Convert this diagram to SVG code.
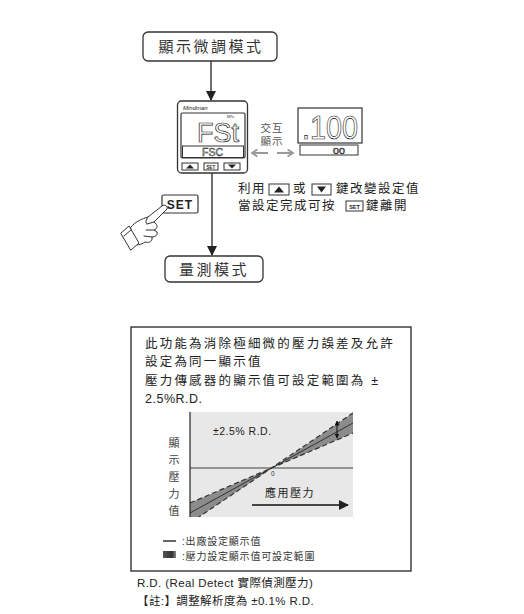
<svg xmlns="http://www.w3.org/2000/svg" width="524" height="614" viewBox="0 0 524 614">
  <defs>
    <style>
      .cjk { font-family: "Liberation Sans", "Noto Sans CJK TC", sans-serif; }
      .mode { font-size: 15px; fill: #333; letter-spacing: 2.5px; text-anchor: middle; }
      .box { fill: #fff; stroke: #333; stroke-width: 1.3; }
      .wire { stroke: #222; stroke-width: 1.3; fill: none; }
      .body { font-size: 12.5px; fill: #222; letter-spacing: 1.5px; }
      .para { font-size: 12.5px; fill: #222; letter-spacing: 2.2px; }
      .note { font-size: 11.5px; fill: #222; letter-spacing: 0.4px; }
      .seg { font-family: "Liberation Sans", sans-serif; fill: #fff; stroke: #222; stroke-width: 0.7; }
      .segs { font-family: "Liberation Sans", sans-serif; fill: none; stroke: #222; stroke-width: 0.5; }
      .key { fill: #fff; stroke: #333; stroke-width: 1; }
      .hand { fill: #fff; stroke: #333; stroke-width: 1; stroke-linejoin: round; stroke-linecap: round; }
    </style>
    <marker id="tri" viewBox="0 0 10 10" refX="9" refY="5" markerWidth="10" markerHeight="10" markerUnits="userSpaceOnUse" orient="auto">
      <path d="M0,0 L10,5 L0,10 z" fill="#222"/>
    </marker>
    <marker id="chev" viewBox="0 0 10 10" refX="8" refY="5" markerWidth="9" markerHeight="9" markerUnits="userSpaceOnUse" orient="auto-start-reverse">
      <path d="M2,1 L8,5 L2,9" fill="none" stroke="#999" stroke-width="2"/>
    </marker>
    <marker id="tiny" viewBox="0 0 10 10" refX="9" refY="5" markerWidth="5" markerHeight="5" markerUnits="userSpaceOnUse" orient="auto-start-reverse">
      <path d="M0,0 L10,5 L0,10 z" fill="#111"/>
    </marker>
    <clipPath id="plot">
      <rect x="190" y="412" width="163" height="105"/>
    </clipPath>
    <linearGradient id="swatch" x1="0" y1="0" x2="1" y2="0">
      <stop offset="0" stop-color="#555"/>
      <stop offset="0.7" stop-color="#333"/>
      <stop offset="1" stop-color="#888"/>
    </linearGradient>
  </defs>

  <rect width="524" height="614" fill="#fff"/>

  <!-- flow connectors -->
  <g id="connectors">
    <line class="wire" x1="211" y1="61" x2="211" y2="100" marker-end="url(#tri)"/>
    <line class="wire" x1="212" y1="173" x2="212" y2="255" marker-end="url(#tri)"/>
    <line x1="252" y1="153" x2="268" y2="153" stroke="#999" stroke-width="2" marker-start="url(#chev)"/>
    <line x1="277" y1="153" x2="293" y2="153" stroke="#999" stroke-width="2" marker-end="url(#chev)"/>
  </g>

  <!-- fine adjust mode -->
  <g id="node-adjust">
    <rect class="box" x="143" y="32" width="134" height="29" rx="5"/>
    <text class="cjk mode" x="211" y="52">顯示微調模式</text>
  </g>

  <!-- controller front panel -->
  <g id="node-device">
    <rect x="177.5" y="101" width="70" height="72" rx="4" fill="#fff" stroke="#333" stroke-width="1.3"/>
    <text x="183" y="109.5" font-family="Liberation Sans, sans-serif" font-size="6" font-style="italic" fill="#222">Mindman</text>
    <rect x="181" y="113" width="64" height="45" rx="1.5" fill="#fff" stroke="#333" stroke-width="1.2"/>
    <text x="227" y="118" font-family="Liberation Sans, sans-serif" font-size="3.5" fill="#333">MPa</text>
    <text class="seg" x="197" y="142" font-size="27" textLength="42" lengthAdjust="spacingAndGlyphs">FSt</text>
    <rect x="182.5" y="146" width="61" height="11.5" fill="#fff" stroke="#333" stroke-width="1"/>
    <text class="segs" x="202" y="155.5" font-size="10" textLength="21" lengthAdjust="spacingAndGlyphs">FSC</text>
    <rect class="key" x="182" y="163" width="16" height="7"/>
    <path d="M186,168.5 L190,164.5 L194,168.5 z" fill="#222"/>
    <rect class="key" x="204" y="163" width="14" height="7"/>
    <text x="211" y="168.5" font-family="Liberation Sans, sans-serif" font-size="4.5" font-weight="bold" fill="#222" text-anchor="middle">SET</text>
    <rect class="key" x="224" y="163" width="16" height="7"/>
    <path d="M228,164.5 L236,164.5 L232,168.5 z" fill="#222"/>
  </g>

  <!-- alternating display -->
  <g id="node-alt">
    <text class="cjk" x="272" y="132" font-size="10.5" fill="#555" text-anchor="middle" letter-spacing="1">交互</text>
    <text class="cjk" x="272" y="145" font-size="10.5" fill="#555" text-anchor="middle" letter-spacing="1">顯示</text>
  </g>

  <g id="node-display">
    <rect x="298" y="108" width="64" height="35" fill="#fff" stroke="#333" stroke-width="1.2"/>
    <text class="seg" x="302" y="139" font-size="34" textLength="56" lengthAdjust="spacingAndGlyphs">.100</text>
    <rect x="300" y="145" width="58" height="10" fill="#fff" stroke="#333" stroke-width="1"/>
    <text class="segs" x="333" y="153.5" font-size="8.5" textLength="12" lengthAdjust="spacingAndGlyphs">00</text>
  </g>

  <!-- key instructions -->
  <g id="node-instructions">
    <text class="cjk body" x="238" y="193">利用</text>
    <rect class="key" x="269" y="184" width="20" height="11"/>
    <path d="M274,192.5 L279,186.5 L284,192.5 z" fill="#222"/>
    <text class="cjk body" x="293" y="193">或</text>
    <rect class="key" x="312" y="184" width="19" height="11"/>
    <path d="M317,186.5 L326,186.5 L321.5,192.5 z" fill="#222"/>
    <text class="cjk body" x="336" y="193">鍵改變設定值</text>
    <text class="cjk body" x="238" y="210">當設定完成可按</text>
    <rect class="key" x="346" y="201" width="17" height="10"/>
    <text x="354.5" y="208.5" font-family="Liberation Sans, sans-serif" font-size="5.5" font-weight="bold" fill="#222" text-anchor="middle">SET</text>
    <text class="cjk body" x="366" y="210">鍵離開</text>
  </g>

  <!-- pressing hand -->
  <g id="node-set">
    <rect x="162" y="195" width="36" height="18" rx="1.5" fill="#fff" stroke="#333" stroke-width="1.2"/>
    <text x="180" y="209" font-family="Liberation Sans, sans-serif" font-size="12" font-weight="bold" fill="#222" text-anchor="middle" letter-spacing="1">SET</text>
    <path class="hand" d="M131,227 C136,221 142,219 148,217 L162,206 C165,204 168,206 167,209 L154,222 L156,224 C158,226 157,229 154,230 L157,232 C158,235 155,237 152,237 L152,239 C152,242 148,243 145,242 C141,245 136,246 132,243 Z"/>
    <path class="hand" d="M147,224 L154,222 M146,230 L154,230 M144,236 L152,237 M148,217 C146,220 145,222 147,224"/>
    <path class="hand" d="M121,233 L129,226 L139,243 L131,250 Z"/>
    <path class="hand" d="M124,236 L131,230"/>
  </g>

  <!-- measure mode -->
  <g id="node-measure">
    <rect class="box" x="165" y="256" width="98" height="26" rx="5"/>
    <text class="cjk mode" x="214" y="275">量測模式</text>
  </g>

  <!-- explanation panel -->
  <g id="node-panel">
    <rect x="131" y="327" width="280" height="244" fill="#fff" stroke="#222" stroke-width="1.3"/>
    <text class="cjk para" x="145" y="348">此功能為消除極細微的壓力誤差及允許</text>
    <text class="cjk para" x="145" y="366">設定為同一顯示值</text>
    <text class="cjk para" x="145" y="385">壓力傳感器的顯示值可設定範圍為 ±</text>
    <text class="cjk para" x="145" y="403" style="letter-spacing:0.5px">2.5%R.D.</text>

    <!-- tolerance chart -->
    <rect x="190" y="412" width="163" height="105" fill="#e8e8e8"/>
    <g clip-path="url(#plot)">
      <path d="M190,503 L272,468 L190,523 Z M272,468 L353,413 L353,433 Z" fill="#8c8c8c"/>
      <line x1="190" y1="468" x2="353" y2="468" stroke="#777" stroke-width="1.3"/>
      <line x1="190" y1="513" x2="353" y2="423" stroke="#333" stroke-width="1"/>
      <line x1="190" y1="503" x2="353" y2="433" stroke="#333" stroke-width="1.2" stroke-dasharray="5 3"/>
      <line x1="190" y1="523" x2="353" y2="413" stroke="#333" stroke-width="1.2" stroke-dasharray="5 3"/>
    </g>
    <line x1="190" y1="412" x2="190" y2="517" stroke="#222" stroke-width="1.2"/>
    <line x1="337" y1="421" x2="337" y2="438" stroke="#111" stroke-width="1" marker-start="url(#tiny)" marker-end="url(#tiny)"/>
    <text x="213" y="435" font-family="Liberation Sans, sans-serif" font-size="10.5" fill="#222" letter-spacing="0.5">±2.5% R.D.</text>
    <text x="271" y="476" font-family="Liberation Sans, sans-serif" font-size="6.5" fill="#333">0</text>
    <g class="cjk" font-size="11" fill="#444" text-anchor="middle">
      <text x="174" y="447">顯</text>
      <text x="174" y="464">示</text>
      <text x="174" y="481">壓</text>
      <text x="174" y="498">力</text>
      <text x="174" y="515">值</text>
    </g>
    <text class="cjk" x="265" y="497" font-size="11" fill="#222" letter-spacing="1.5">應用壓力</text>
    <line x1="252" y1="505" x2="348" y2="505" stroke="#111" stroke-width="1.3" marker-end="url(#tri)"/>

    <!-- legend -->
    <line x1="163" y1="541" x2="176" y2="541" stroke="#333" stroke-width="1.5"/>
    <text class="cjk" x="182" y="545" font-size="10" fill="#333" letter-spacing="0.8">:出廠設定顯示值</text>
    <rect x="163" y="551" width="13" height="7" fill="url(#swatch)"/>
    <text class="cjk" x="182" y="560" font-size="10" fill="#333" letter-spacing="0.8">:壓力設定顯示值可設定範圍</text>
  </g>

  <!-- footnotes -->
  <g id="node-notes">
    <text class="cjk note" x="137" y="587">R.D. (Real Detect 實際偵測壓力)</text>
    <text class="cjk note" x="137" y="605">【註:】調整解析度為 ±0.1% R.D.</text>
  </g>
</svg>
